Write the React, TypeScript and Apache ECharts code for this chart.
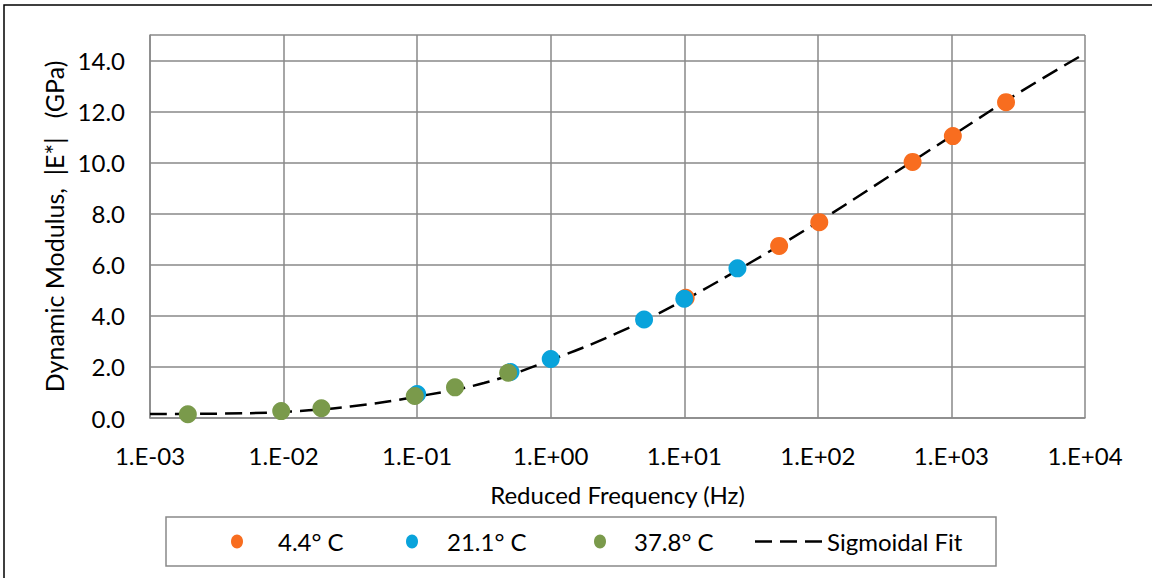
import React, { useEffect, useRef } from "react";
import * as echarts from "echarts";

// Measured dynamic modulus |E*| (GPa) against reduced frequency (Hz)
const freq44 = [10.25, 51.3, 102.5, 512, 1025, 2563];
const mod44 = [4.71, 6.74, 7.67, 10.03, 11.04, 12.37];

const freq211 = [0.1, 0.5, 1, 5, 10, 25];
const mod211 = [0.94, 1.8, 2.31, 3.86, 4.67, 5.86];

const freq378 = [0.00192, 0.0096, 0.0192, 0.096, 0.192, 0.48];
const mod378 = [0.15, 0.27, 0.38, 0.86, 1.2, 1.77];

// Sigmoidal master curve
const fitFreq = [0.001, 0.00316, 0.01, 0.0316, 0.1, 0.316, 1, 3.16, 10, 31.6, 100, 316, 1000, 3162, 10000];
const fitMod = [0.16, 0.17, 0.24, 0.45, 0.84, 1.37, 2.27, 3.33, 4.62, 6.1, 7.67, 9.35, 11.04, 12.72, 14.28];

const seriesNames = ["4.4° C", "21.1° C", "37.8° C", "Sigmoidal Fit"];
const seriesColors = ["#F86D1F", "#09A3DB", "#7A9A4B"];

const FONT = "Lato";
const TEXT = "#000000";
const GRID = "#898989";
const DASH = [17, 8];

const pairs = (xs: number[], ys: number[]) => xs.map((x, i) => [x, ys[i]]);

const fmtExp = (v: number) => {
  const e = Math.round(Math.log10(v));
  const sign = e < 0 ? "-" : "+";
  const a = Math.abs(e);
  return `1.E${sign}${a < 10 ? "0" + a : a}`;
};

// Legend box drawn as graphic elements
const LEG = { x: 166, y: 517, w: 830, h: 49 };
const legDotX = [237, 412, 600];
const legTextX = [278, 447, 634, 827];
const legLine = [755, 822];

function legendGraphics() {
  const cy = LEG.y + LEG.h / 2;
  const els: any[] = [
    {
      type: "rect",
      shape: { x: LEG.x, y: LEG.y, width: LEG.w, height: LEG.h },
      style: { fill: "#ffffff", stroke: GRID, lineWidth: 1.5 },
      silent: true,
    },
  ];
  legDotX.forEach((x, i) => {
    els.push({
      type: "ellipse",
      shape: { cx: x, cy, rx: 6, ry: 7 },
      style: { fill: seriesColors[i] },
      silent: true,
    });
  });
  els.push({
    type: "line",
    shape: { x1: legLine[0], y1: cy, x2: legLine[1], y2: cy },
    style: { stroke: "#000000", lineWidth: 2.5, lineDash: DASH },
    silent: true,
  });
  seriesNames.forEach((name, i) => {
    els.push({
      type: "text",
      x: legTextX[i],
      y: cy,
      style: {
        text: name,
        fontFamily: FONT,
        fontSize: 24,
        fill: TEXT,
        align: "left",
        verticalAlign: "middle",
      },
      silent: true,
    });
  });
  return els;
}

export default function App() {
  const ref = useRef<HTMLDivElement>(null);

  useEffect(() => {
    if (!ref.current) return;
    const chart = echarts.init(ref.current, undefined, { renderer: "svg" });
    chart.setOption({
      animation: false,
      backgroundColor: "#ffffff",
      textStyle: { fontFamily: FONT, color: TEXT },
      grid: { left: 150, right: 67, top: 35, bottom: 160, containLabel: false },
      graphic: [
        {
          type: "rect",
          shape: { x: 4, y: 5, width: 1170, height: 600 },
          style: { fill: "none", stroke: "#000000", lineWidth: 1.5 },
          silent: true,
        },
        ...legendGraphics(),
      ],
      xAxis: {
        type: "log",
        logBase: 10,
        min: 0.001,
        max: 10000,
        name: "Reduced Frequency (Hz)",
        nameLocation: "middle",
        nameGap: 64,
        nameTextStyle: { fontFamily: FONT, fontSize: 24, color: TEXT },
        axisLine: { show: true, lineStyle: { color: GRID, width: 1.5 } },
        axisTick: { show: false },
        axisLabel: { formatter: fmtExp, fontFamily: FONT, fontSize: 24, color: TEXT, margin: 25 },
        splitLine: { show: true, lineStyle: { color: GRID, width: 1.5 } },
        minorTick: { show: false },
        minorSplitLine: { show: false },
      },
      yAxis: {
        type: "value",
        min: 0,
        max: 15,
        interval: 2,
        name: "Dynamic Modulus,  |E*|   (GPa)",
        nameLocation: "middle",
        nameGap: 80,
        nameTextStyle: { fontFamily: FONT, fontSize: 25, color: TEXT },
        axisLine: { show: true, lineStyle: { color: GRID, width: 1.5 } },
        axisTick: { show: false },
        axisLabel: {
          formatter: (v: number) => v.toFixed(1),
          fontFamily: FONT,
          fontSize: 24,
          color: TEXT,
          margin: 25,
          showMaxLabel: false,
        },
        splitLine: { show: true, lineStyle: { color: GRID, width: 1.5 } },
      },
      series: [
        {
          name: seriesNames[3],
          type: "line",
          data: pairs(fitFreq, fitMod),
          smooth: 0.4,
          symbol: "none",
          z: 1,
          lineStyle: { color: "#000000", width: 2.5, type: DASH },
          itemStyle: { color: "#000000" },
        },
        {
          name: seriesNames[0],
          type: "scatter",
          data: pairs(freq44, mod44),
          symbol: "circle",
          symbolSize: 18,
          z: 2,
          itemStyle: { color: seriesColors[0], opacity: 1 },
        },
        {
          name: seriesNames[1],
          type: "scatter",
          data: pairs(freq211, mod211),
          symbol: "circle",
          symbolSize: 18,
          z: 3,
          itemStyle: { color: seriesColors[1], opacity: 1 },
        },
        {
          name: seriesNames[2],
          type: "scatter",
          data: pairs(freq378, mod378),
          symbol: "circle",
          symbolSize: 18,
          z: 4,
          itemStyle: { color: seriesColors[2], opacity: 1 },
        },
      ],
    });
    return () => chart.dispose();
  }, []);

  return (
    <div
      ref={ref}
      style={{ position: "absolute", left: 0, top: 0, width: 1152, height: 578, background: "#fff" }}
    />
  );
}
